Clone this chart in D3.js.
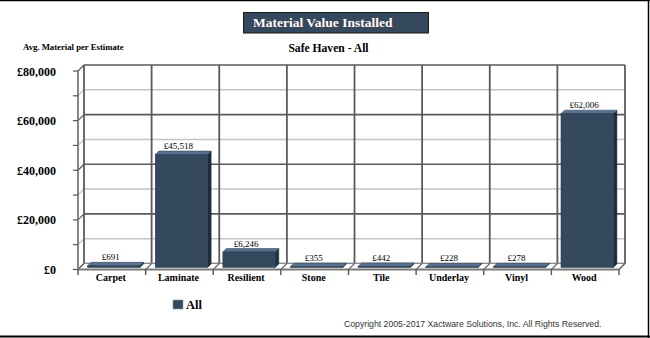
<!DOCTYPE html>
<html><head><meta charset="utf-8">
<script src="https://cdn.jsdelivr.net/npm/d3@7"></script>
<style>html,body{margin:0;padding:0;background:#fff;}svg{display:block;}</style>
</head><body>
<script>
const categories = ["Carpet","Laminate","Resilient","Stone","Tile","Underlay","Vinyl","Wood"];
const values = [691,45518,6246,355,442,228,278,62006];
const gridValues = [0,10000,20000,30000,40000,50000,60000,70000,80000];
const tickValues = [0,20000,40000,60000,80000];
const tickLabels = ["£0","£20,000","£40,000","£60,000","£80,000"];
const seriesName = "All";
const titleText = "Material Value Installed";
const subtitleText = "Safe Haven - All";
const yAxisTitle = "Avg. Material per Estimate";
const copyrightText = "Copyright 2005-2017 Xactware Solutions, Inc. All Rights Reserved.";

const W = 650, H = 338;
const serif = "'Liberation Serif','Times New Roman',serif";
const sans = "'Liberation Sans',Arial,sans-serif";
const svg = d3.select("body").append("svg").attr("width", W).attr("height", H);

// frame
svg.append("line").attr("x1",0).attr("x2",W).attr("y1",0.5).attr("y2",0.5).attr("stroke","#000").attr("stroke-width",1.5);
svg.append("line").attr("x1",648.5).attr("x2",648.5).attr("y1",0).attr("y2",H).attr("stroke","#000").attr("stroke-width",1.5);
svg.append("line").attr("x1",0).attr("x2",W).attr("y1",336.5).attr("y2",336.5).attr("stroke","#000").attr("stroke-width",2);

// scales (front plane)
const x0 = 78, x1 = 619;
const cat = d3.scaleBand().domain(categories).range([x0, x1]).padding(0);
const band = d3.scaleBand().domain(categories).range([x0, x1]).paddingInner(0.225).paddingOuter(0.1125);
const y = d3.scaleLinear().domain([0, 80000]).range([269.5, 71]);
const D = {dx: 6, dy: -6};           // wall depth
const BF = {dx: 2, dy: -2};          // bar front offset
const BB = {dx: 5.5, dy: -5.5};      // bar back offset

const dark = "#5a5a5a", light = "#c4c4c4";

// back wall horizontal gridlines
svg.append("g").selectAll("line").data(gridValues).join("line")
  .attr("x1", x0 + D.dx).attr("x2", x1 + D.dx)
  .attr("y1", d => y(d) + D.dy).attr("y2", d => y(d) + D.dy)
  .attr("stroke", d => d % 20000 === 0 ? dark : light).attr("stroke-width", 1.6);
// left wall diagonals
svg.append("g").selectAll("line").data(gridValues).join("line")
  .attr("x1", x0).attr("x2", x0 + D.dx)
  .attr("y1", d => y(d)).attr("y2", d => y(d) + D.dy)
  .attr("stroke", d => d % 20000 === 0 ? dark : light).attr("stroke-width", 1.3);
// back wall vertical lines
const bounds = categories.map(c => cat(c)).concat([x1]);
svg.append("g").selectAll("line").data(bounds).join("line")
  .attr("x1", d => d + D.dx).attr("x2", d => d + D.dx)
  .attr("y1", y(80000) + D.dy).attr("y2", y(0) + D.dy)
  .attr("stroke", dark).attr("stroke-width", 1.8);

// floor
svg.append("path")
  .attr("d", `M${x0},${y(0)}L${x1},${y(0)}L${x1 + D.dx},${y(0) + D.dy}L${x0 + D.dx},${y(0) + D.dy}Z`)
  .attr("fill", "#fff").attr("stroke", "#8a8a8a").attr("stroke-width", 1.2);
svg.append("g").selectAll("line").data(bounds).join("line")
  .attr("x1", d => d).attr("x2", d => d + D.dx)
  .attr("y1", y(0)).attr("y2", y(0) + D.dy)
  .attr("stroke", "#6a6a6a").attr("stroke-width", 1.3);

// bars
const barFront = "#34495e", barTop = "#577190", barSide = "#1f2e3d";
const bars = svg.append("g").selectAll("g").data(categories.map((c, i) => ({c, v: values[i]}))).join("g");
bars.append("path").attr("fill", barSide).attr("stroke", "#1a2430").attr("stroke-width", 0.5)
  .attr("d", d => {
    const xr = band(d.c) + band.bandwidth();
    return `M${xr + BF.dx},${y(d.v) + BF.dy}L${xr + BB.dx},${y(d.v) + BB.dy}L${xr + BB.dx},${y(0) + BB.dy}L${xr + BF.dx},${y(0) + BF.dy}Z`;
  });
bars.append("path").attr("fill", barTop).attr("stroke", "#2a3a4a").attr("stroke-width", 0.5)
  .attr("d", d => {
    const xl = band(d.c), xr = xl + band.bandwidth(), yt = y(d.v);
    return `M${xl + BF.dx},${yt + BF.dy}L${xr + BF.dx},${yt + BF.dy}L${xr + BB.dx},${yt + BB.dy}L${xl + BB.dx},${yt + BB.dy}Z`;
  });
bars.append("rect").attr("fill", barFront).attr("stroke", "#243444").attr("stroke-width", 0.5)
  .attr("x", d => band(d.c) + BF.dx).attr("width", band.bandwidth())
  .attr("y", d => y(d.v) + BF.dy).attr("height", d => y(0) - y(d.v));

// value labels
bars.append("text").attr("font-family", serif).attr("font-size", 9).attr("fill", "#000")
  .attr("text-anchor", "middle")
  .attr("x", d => cat(d.c) + cat.bandwidth() / 2 - 1)
  .attr("y", d => y(d.v) + BB.dy - 2)
  .text(d => "£" + d3.format(",")(d.v));

// front axes
svg.append("line").attr("x1", x0).attr("x2", x0).attr("y1", y(80000)).attr("y2", y(0))
  .attr("stroke", "#7a7a7a").attr("stroke-width", 1.8);
svg.append("line").attr("x1", x0).attr("x2", x1).attr("y1", y(0)).attr("y2", y(0))
  .attr("stroke", "#7a7a7a").attr("stroke-width", 2);
svg.append("g").selectAll("line").data(gridValues).join("line")
  .attr("x1", x0 - 5).attr("x2", x0).attr("y1", d => y(d)).attr("y2", d => y(d))
  .attr("stroke", "#555").attr("stroke-width", 1.2);
svg.append("g").selectAll("line").data(bounds).join("line")
  .attr("x1", d => d).attr("x2", d => d).attr("y1", y(0)).attr("y2", y(0) + 5.5)
  .attr("stroke", "#555").attr("stroke-width", 1.4);

// y tick labels
svg.append("g").selectAll("text").data(tickValues).join("text")
  .attr("font-family", serif).attr("font-weight", "bold").attr("font-size", 12)
  .attr("text-anchor", "end").attr("x", 56).attr("y", d => y(d) + 4.5)
  .text((d, i) => tickLabels[i]);

// category labels
svg.append("g").selectAll("text").data(categories).join("text")
  .attr("font-family", serif).attr("font-weight", "bold").attr("font-size", 10)
  .attr("text-anchor", "middle").attr("x", d => cat(d) + cat.bandwidth() / 2 - 1).attr("y", 281)
  .text(d => d);

// title box
svg.append("rect").attr("x", 243.5).attr("y", 12.5).attr("width", 185).attr("height", 20.5)
  .attr("fill", "#34495e").attr("stroke", "#1b1b1b").attr("stroke-width", 1);
svg.append("text").attr("x", 253.8).attr("y", 27.8).attr("font-family", serif).attr("font-weight", "bold")
  .attr("font-size", 13.5).attr("fill", "#4a3a4a").text(titleText);
svg.append("text").attr("x", 253).attr("y", 27).attr("font-family", serif).attr("font-weight", "bold")
  .attr("font-size", 13.5).attr("fill", "#fff").text(titleText);

svg.append("text").attr("x", 328.5).attr("y", 52).attr("text-anchor", "middle").attr("font-family", serif)
  .attr("font-weight", "bold").attr("font-size", 11.6).attr("fill", "#000").text(subtitleText);
svg.append("text").attr("x", 23).attr("y", 50).attr("font-family", serif)
  .attr("font-weight", "bold").attr("font-size", 8.7).attr("fill", "#000").text(yAxisTitle);

// legend
svg.append("rect").attr("x", 173).attr("y", 300).attr("width", 10).attr("height", 9).attr("fill", barFront)
  .attr("stroke", "#8a9aaa").attr("stroke-width", 0.6);
svg.append("text").attr("x", 186).attr("y", 309).attr("font-family", serif).attr("font-weight", "bold")
  .attr("font-size", 12.5).attr("fill", "#000").text(seriesName);

// copyright
svg.append("text").attr("x", 344).attr("y", 327).attr("font-family", sans).attr("font-size", 8.7)
  .attr("fill", "#333").text(copyrightText);
</script>
</body></html>
